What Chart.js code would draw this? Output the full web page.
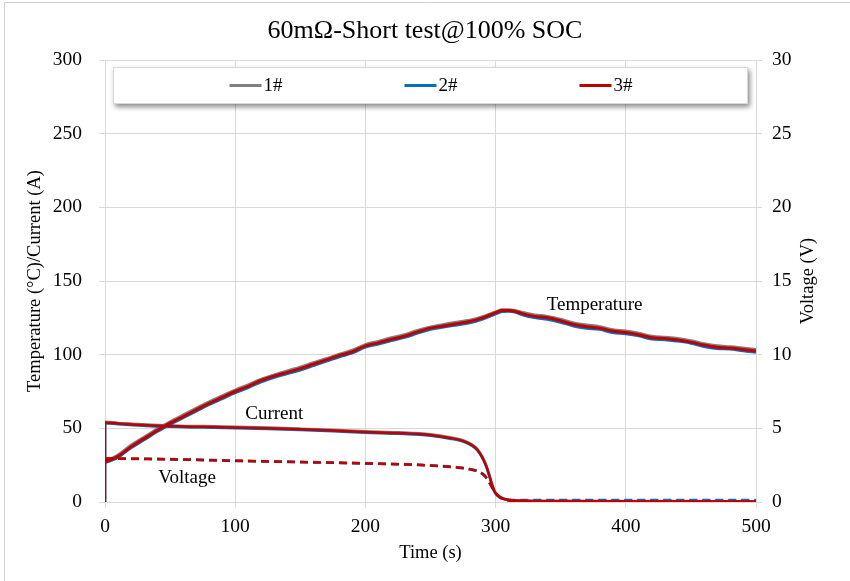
<!DOCTYPE html>
<html>
<head>
<meta charset="utf-8">
<title>60mΩ-Short test@100% SOC</title>
<script src="https://cdn.jsdelivr.net/npm/chart.js@4.4.0/dist/chart.umd.min.js"></script>
<style>
    html, body { margin: 0; padding: 0; background: #fff; }
    canvas { display: block; }
</style>
</head>
<body>
<canvas id="shortChart" width="850" height="581"></canvas>
<script>
// ======= Cells under test =======
const cells = ['1#', '2#', '3#'];
const cellColors = ['#7f7f7f', '#0070c0', '#c00000'];

// ======= Temperature (°C) =======
const tempTime = [0, 10, 20, 30, 40, 50, 60, 70, 80, 90, 100, 110, 120, 130, 140, 150, 160, 170, 180, 190,
    200, 210, 220, 230, 240, 250, 260, 270, 280, 290, 300, 305, 310, 315, 320, 330, 340, 350, 360, 370,
    380, 390, 400, 410, 420, 430, 440, 450, 460, 470, 480, 490, 500];
const temp1 = [27.5, 31.8, 38.5, 44, 49.5, 54.5, 59, 63.5, 68, 72, 76, 79.5, 83.3, 86.3, 89, 91.5, 94.5, 97.3, 100.3, 103,
    106.8, 109, 111.5, 113.5, 116.5, 118.8, 120.5, 122, 123.3, 125.8, 129, 130.5, 130.5, 130, 128.8, 127, 126, 124, 121.5, 120.2,
    119, 117, 116, 114.5, 112.5, 111.8, 111, 109.5, 107.5, 106, 105.3, 104.5, 103.5];
const temp2 = [26.8, 30.3, 36.8, 42.2, 47.8, 52.7, 57.2, 61.7, 66.2, 70.2, 74.2, 77.7, 81.6, 84.7, 87.2, 89.6, 92.6, 95.6, 98.6, 101.2,
    105.1, 107.2, 109.6, 111.7, 114.6, 117.2, 118.7, 120.2, 121.6, 124.2, 127.7, 129.3, 129.5, 129, 127.3, 125.2, 124, 122, 119.5, 118,
    117.2, 115, 114.2, 112.8, 110.6, 110.2, 109.2, 107.8, 105.6, 104.2, 103.8, 102.6, 101.6];
const temp3 = [27, 31, 37.5, 43, 48.5, 53.5, 58, 62.5, 67, 71, 75, 78.5, 82.5, 85.5, 88, 90.5, 93.5, 96.5, 99.5, 102,
    106, 108, 110.5, 112.5, 115.5, 118, 119.5, 121, 122.5, 125, 128.5, 130, 130, 129.5, 128, 126, 125, 123, 120.5, 119,
    118, 116, 115, 113.5, 111.5, 111, 110, 108.5, 106.5, 105, 104.5, 103.5, 102.5];

// ======= Current (A) =======
const currTime = [0, 0, 10, 25, 50, 75, 100, 125, 150, 175, 200, 225, 250, 265, 275, 282, 286, 290, 293, 295,
    297, 299, 301, 303, 306, 311, 320, 350, 400, 450, 500];
const curr1 = [0, 54.5, 53.7, 53, 52, 51.5, 51, 50.5, 49.8, 49, 48, 47.3, 46, 44, 42, 39, 36, 30.5, 24.5, 19,
    13, 8, 5.3, 3.8, 2.4, 1.4, 0.9, 0.7, 0.6, 0.6, 0.5];
const curr2 = [0, 53.5, 52.8, 52, 51, 50.5, 50, 49.5, 48.8, 48, 47, 46.3, 45, 43, 41, 38, 35, 29.5, 23.5, 18,
    12, 7, 4.6, 3.3, 2, 1.2, 0.7, 0.5, 0.4, 0.4, 0.3];
const curr3 = [0, 54, 53.2, 52.5, 51.5, 51, 50.5, 50, 49.3, 48.5, 47.5, 46.8, 45.5, 43.5, 41.5, 38.5, 35.5, 30, 24, 18.5,
    12.5, 7.5, 5, 3.6, 2.2, 1.3, 0.8, 0.6, 0.5, 0.5, 0.4];

// ======= Voltage (V) =======
const voltTime = [0, 25, 50, 100, 150, 200, 240, 260, 275, 283, 288, 292, 295, 298, 301, 305, 310, 320, 350, 400, 450, 500];
const volt1 = [2.97, 2.95, 2.92, 2.82, 2.73, 2.64, 2.54, 2.44, 2.32, 2.19, 2.04, 1.78, 1.38, 0.93, 0.53, 0.25, 0.13, 0.1, 0.1, 0.1, 0.1, 0.1];
const volt2 = [2.95, 2.92, 2.89, 2.79, 2.7, 2.61, 2.51, 2.41, 2.29, 2.16, 2.0, 1.72, 1.32, 0.87, 0.48, 0.22, 0.14, 0.14, 0.14, 0.14, 0.14, 0.14];
const volt3 = [2.95, 2.93, 2.9, 2.8, 2.71, 2.62, 2.52, 2.42, 2.3, 2.17, 2.02, 1.75, 1.35, 0.9, 0.5, 0.22, 0.1, 0.06, 0.05, 0.05, 0.05, 0.05];

// ======= Axis ticks =======
const timeTicks = [0, 100, 200, 300, 400, 500];
const leftTicks = [0, 50, 100, 150, 200, 250, 300];
const rightTicks = [0, 5, 10, 15, 20, 25, 30];

// Text labels placed next to the curve groups (time, left-axis value)
const curveLabels = [
    { text: 'Temperature', t: 376, v: 134 },
    { text: 'Current', t: 130, v: 60 },
    { text: 'Voltage', t: 63, v: 16 }
];

const FONT = "'Liberation Serif', 'Times New Roman', serif";
const GRID = '#d9d9d9';
const voltTitle = 'Voltage (V)';

function toPoints(times, values) {
    return times.map((t, i) => ({ x: t, y: values[i] }));
}

function serie(cell, times, values, kind) {
    const i = cells.indexOf(cell);
    const ds = {
        label: cell,
        data: toPoints(times, values),
        borderColor: cellColors[i],
        backgroundColor: cellColors[i],
        borderWidth: kind === 'temp' ? 3 : 2.5,
        pointRadius: 0,
        cubicInterpolationMode: 'monotone',
        fill: false,
        order: 3 - i,
        yAxisID: kind === 'volt' ? 'yV' : 'y'
    };
    if (kind === 'volt') ds.borderDash = [8, 5];
    return ds;
}

const datasets = [
    serie('1#', tempTime, temp1, 'temp'),
    serie('2#', tempTime, temp2, 'temp'),
    serie('3#', tempTime, temp3, 'temp'),
    serie('1#', currTime, curr1, 'curr'),
    serie('2#', currTime, curr2, 'curr'),
    serie('3#', currTime, curr3, 'curr'),
    serie('1#', voltTime, volt1, 'volt'),
    serie('2#', voltTime, volt2, 'volt'),
    serie('3#', voltTime, volt3, 'volt')
];

// ======= Frame, curve labels, right axis title and the boxed legend =======
const extras = {
    id: 'extras',
    beforeDraw(chart) {
        const ctx = chart.ctx;
        ctx.save();
        ctx.fillStyle = '#fff';
        ctx.fillRect(0, 0, chart.width, chart.height);
        ctx.strokeStyle = '#d0d0d0';
        ctx.lineWidth = 1;
        ctx.beginPath();
        ctx.moveTo(4.5, chart.height);
        ctx.lineTo(4.5, 2.5);
        ctx.lineTo(chart.width, 2.5);
        ctx.stroke();
        ctx.restore();
    },
    afterDatasetsDraw(chart) {
        const ctx = chart.ctx;
        const xs = chart.scales.x, ys = chart.scales.y;
        ctx.save();
        ctx.font = '19px ' + FONT;
        ctx.fillStyle = '#000';
        ctx.textAlign = 'center';
        ctx.textBaseline = 'middle';
        curveLabels.forEach(l => {
            ctx.fillText(l.text, xs.getPixelForValue(l.t), ys.getPixelForValue(l.v));
        });

        // right axis title reads bottom-to-top like the left one
        const area = chart.chartArea;
        ctx.translate(area.right + 52, (area.top + area.bottom) / 2);
        ctx.rotate(-Math.PI / 2);
        ctx.font = '18.5px ' + FONT;
        ctx.fillText(voltTitle, 0, 0);
        ctx.restore();
    },
    afterDraw(chart) {
        const ctx = chart.ctx;
        const area = chart.chartArea;
        const box = { x: area.left + 8, y: area.top + 7, w: area.width - 16, h: 37 };
        ctx.save();
        ctx.shadowColor = 'rgba(0,0,0,0.45)';
        ctx.shadowBlur = 5;
        ctx.shadowOffsetX = 2;
        ctx.shadowOffsetY = 3;
        ctx.fillStyle = '#fff';
        ctx.fillRect(box.x, box.y, box.w, box.h);
        ctx.restore();

        ctx.save();
        ctx.strokeStyle = '#d9d9d9';
        ctx.lineWidth = 1;
        ctx.strokeRect(box.x + 0.5, box.y + 0.5, box.w - 1, box.h - 1);
        ctx.font = '19px ' + FONT;
        ctx.textBaseline = 'middle';
        ctx.fillStyle = '#000';
        const cy = box.y + box.h / 2;
        const step = 175;
        const mid = box.x + box.w / 2;
        cells.forEach((c, i) => {
            const x0 = mid - 26 + (i - 1) * step;
            ctx.strokeStyle = cellColors[i];
            ctx.lineWidth = 3;
            ctx.beginPath();
            ctx.moveTo(x0, cy);
            ctx.lineTo(x0 + 32, cy);
            ctx.stroke();
            ctx.fillText(c, x0 + 34, cy + 1);
        });
        ctx.restore();
    }
};

const tickFont = { family: FONT, size: 19.5 };
const titleFont = { family: FONT, size: 18.5 };

new Chart(document.getElementById('shortChart').getContext('2d'), {
    type: 'line',
    data: { datasets: datasets },
    options: {
        responsive: false,
        animation: false,
        devicePixelRatio: 1,
        layout: { padding: 0 },
        plugins: {
            legend: { display: false },
            tooltip: { enabled: false },
            title: {
                display: true,
                text: '60mΩ-Short test@100% SOC',
                color: '#000',
                font: { family: FONT, size: 26, weight: 'normal' },
                padding: { top: 16, bottom: 12.8 }
            }
        },
        scales: {
            x: {
                type: 'linear',
                min: 0,
                max: 500,
                afterBuildTicks: s => { s.ticks = timeTicks.map(v => ({ value: v })); },
                afterFit: s => { s.height = 79; },
                ticks: { color: '#000', font: tickFont, padding: 7, maxRotation: 0 },
                grid: { color: GRID, tickLength: 6 },
                border: { color: GRID },
                title: { display: true, text: 'Time (s)', color: '#000', font: titleFont, padding: { top: 0, bottom: 17 } }
            },
            y: {
                position: 'left',
                min: 0,
                max: 300,
                afterBuildTicks: s => { s.ticks = leftTicks.map(v => ({ value: v })); },
                afterFit: s => { s.width = 105; },
                ticks: { color: '#000', font: tickFont, padding: 17 },
                grid: { color: GRID, tickLength: 6 },
                border: { color: GRID },
                title: { display: true, text: 'Temperature (°C)/Current (A)', color: '#000', font: titleFont, padding: { top: 24, bottom: 0 } }
            },
            yV: {
                position: 'right',
                min: 0,
                max: 30,
                afterBuildTicks: s => { s.ticks = rightTicks.map(v => ({ value: v })); },
                afterFit: s => { s.width = 94; },
                ticks: { color: '#000', font: tickFont, padding: 10 },
                grid: { color: GRID, tickLength: 6, drawOnChartArea: false },
                border: { color: GRID },
                title: { display: false }
            }
        }
    },
    plugins: [extras]
});
</script>
</body>
</html>
